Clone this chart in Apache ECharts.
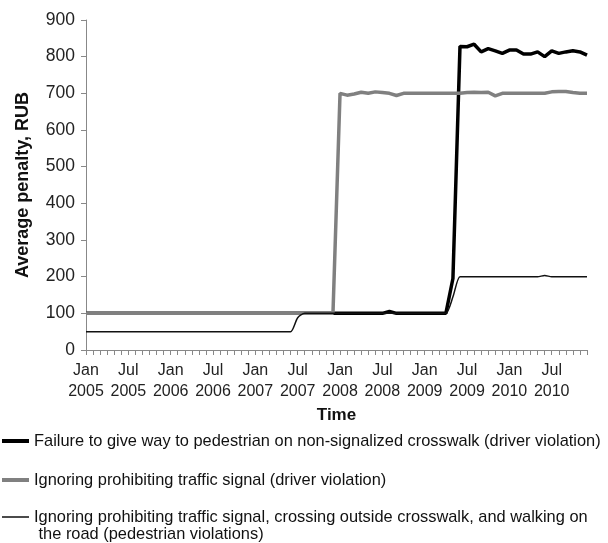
<!DOCTYPE html>
<html>
<head>
<meta charset="utf-8">
<script src="https://cdn.jsdelivr.net/npm/echarts@6/dist/echarts.min.js"></script>
<style>
html,body{margin:0;padding:0;background:#fff;}
#chart{width:608px;height:543px;}
</style>
</head>
<body>
<div id="chart"></div>
<script>
var years = ['2005','2006','2007','2008','2009','2010'];
var monthNames = ['Jan','Feb','Mar','Apr','May','Jun','Jul','Aug','Sep','Oct','Nov','Dec'];
var yTicks = [0,100,200,300,400,500,600,700,800,900];

var seriesNames = [
  'Failure to give way to pedestrian on non-signalized crosswalk (driver violation)',
  'Ignoring prohibiting traffic signal (driver violation)',
  'Ignoring prohibiting traffic signal, crossing outside crosswalk, and walking on\n the road (pedestrian violations)'
];

var failureToGiveWay = [
  100,100,100,100,100,100,100,100,100,100,100,100,
  100,100,100,100,100,100,100,100,100,100,100,100,
  100,100,100,100,100,100,100,100,100,100,100,100,
  100,100,100,100,100,100,100,105,100,100,100,100,
  100,100,100,100,195,828,827,834,813,822,816,809,
  818,818,807,807,813,800,816,809,813,816,813,804
];
var ignoringSignalDriver = [
  100,100,100,100,100,100,100,100,100,100,100,100,
  100,100,100,100,100,100,100,100,100,100,100,100,
  100,100,100,100,100,100,100,100,100,100,100,100,
  700,695,698,703,700,704,702,700,694,700,700,700,
  700,700,700,700,700,700,702,703,702,703,693,700,
  700,700,700,700,700,700,704,705,705,702,700,700
];
var pedestrianViolations = [
  50,50,50,50,50,50,50,50,50,50,50,50,
  50,50,50,50,50,50,50,50,50,50,50,50,
  50,50,50,50,50,50,88,100,100,100,100,100,
  100,100,100,100,100,100,100,100,100,100,100,100,
  100,100,100,100,145,200,200,200,200,200,200,200,
  200,200,200,200,200,203,200,200,200,200,200,200
];

var categories = [];
years.forEach(function(y){ monthNames.forEach(function(m){ categories.push(m + '\n' + y); }); });

var FONT = '"Liberation Sans", Arial, sans-serif';
var chart = echarts.init(document.getElementById('chart'));

function legendCfg(name, top, icon, itemHeight) {
  return {
    data: [name],
    left: 2,
    top: top,
    padding: 0,
    orient: 'horizontal',
    selectedMode: false,
    icon: icon,
    itemWidth: 27,
    itemHeight: itemHeight,
    textStyle: {fontFamily: FONT, fontSize: 16.4, color: '#111', lineHeight: 17}
  };
}

chart.setOption({
  animation: false,
  backgroundColor: '#fff',
  grid: {left: 86, right: 21, top: 20, bottom: 193, containLabel: false},
  legend: [
    legendCfg(seriesNames[0], 432.5, 'rect', 4),
    legendCfg(seriesNames[1], 471.5, 'rect', 4),
    legendCfg(seriesNames[2], 508.5,
      'path://M0,0L0.01,0L0,0.01Z M0,7.75L27,7.75L27,9.25L0,9.25Z M0,34L0.01,34L0,33.99Z', 34)
  ],
  xAxis: {
    type: 'category',
    data: categories,
    boundaryGap: false,
    name: 'Time',
    nameLocation: 'middle',
    nameGap: 54,
    nameTextStyle: {fontFamily: FONT, fontSize: 17, fontWeight: 'bold', color: '#111'},
    axisLine: {lineStyle: {color: '#888', width: 1}},
    axisTick: {show: true, interval: 0, length: 5, lineStyle: {color: '#888'}},
    axisLabel: {interval: 5, fontFamily: FONT, fontSize: 16, color: '#222', lineHeight: 21, margin: 10},
    splitLine: {show: false}
  },
  yAxis: {
    type: 'value',
    min: yTicks[0],
    max: yTicks[yTicks.length - 1],
    interval: 100,
    name: 'Average penalty, RUB',
    nameLocation: 'middle',
    nameGap: 54,
    nameTextStyle: {fontFamily: FONT, fontSize: 18, fontWeight: 'bold', color: '#111'},
    axisLine: {show: true, lineStyle: {color: '#888', width: 1}},
    axisTick: {show: true, length: 5, lineStyle: {color: '#888'}},
    axisLabel: {fontFamily: FONT, fontSize: 17.5, color: '#222', margin: 11},
    splitLine: {show: false}
  },
  series: [
    {name: seriesNames[0], type: 'line', data: failureToGiveWay, symbol: 'none',
     lineStyle: {color: '#000', width: 3.5}, itemStyle: {color: '#000'}, z: 2},
    {name: seriesNames[1], type: 'line', data: ignoringSignalDriver, symbol: 'none',
     lineStyle: {color: '#808080', width: 3.5}, itemStyle: {color: '#808080'}, z: 3},
    {name: seriesNames[2], type: 'line', data: pedestrianViolations, symbol: 'none', smooth: 0.25,
     lineStyle: {color: '#111', width: 1.5}, itemStyle: {color: '#111'}, z: 4}
  ]
});
</script>
</body>
</html>
